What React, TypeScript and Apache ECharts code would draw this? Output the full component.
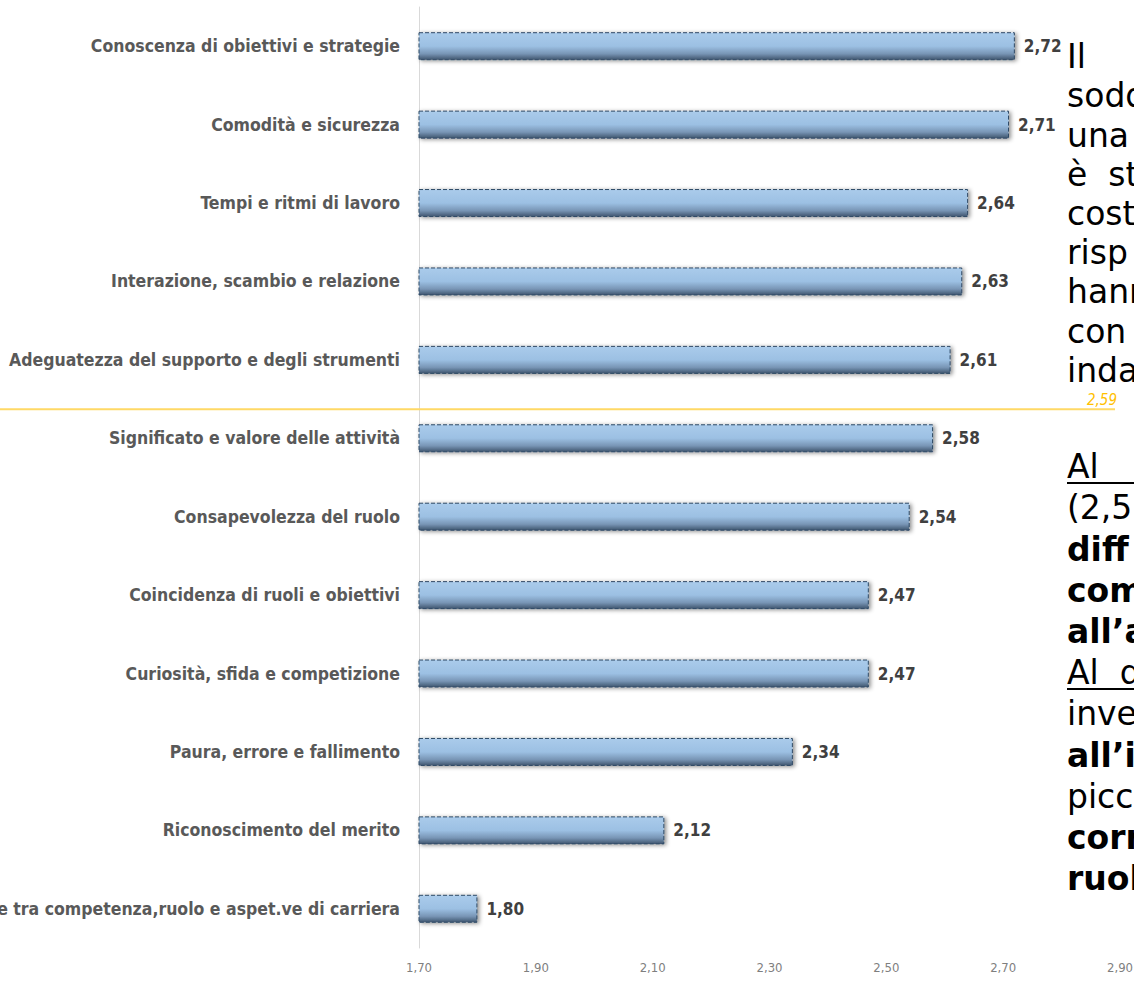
import { useEffect, useRef } from "react";
import * as echarts from "echarts";

const categories = [
  "Conoscenza di obiettivi e strategie",
  "Comodità e sicurezza",
  "Tempi e ritmi di lavoro",
  "Interazione, scambio e relazione",
  "Adeguatezza del supporto e degli strumenti",
  "Significato e valore delle attività",
  "Consapevolezza del ruolo",
  "Coincidenza di ruoli e obiettivi",
  "Curiosità, sfida e competizione",
  "Paura, errore e fallimento",
  "Riconoscimento del merito",
  "e tra competenza,ruolo e aspet.ve di carriera",
];
const values = [2.72, 2.71, 2.64, 2.63, 2.61, 2.58, 2.54, 2.47, 2.47, 2.34, 2.12, 1.8];
const meanValue = 2.59;
const axisMin = 1.7;
const axisMax = 2.9;
const axisStep = 0.2;

const noteParagraph1 = ["Il", "sodd", "una", "è  st", "cost", "risp", "hann", "con", "inda"];
const noteParagraph2 = ["Al", "(2,5", "diff", "comp", "all’a", "Al  d", "inve", "all’i", "picc", "corr", "ruol"];
const boldLines2 = [2, 3, 4, 7, 9, 10];
const underlinedLines2 = [0, 5];

const W = 1134;
const H = 984;
const fmt = (v: number) => v.toFixed(2).replace(".", ",");
const chartFont = "'Liberation Sans Narrow', 'DejaVu Sans Condensed', sans-serif";

export default function App() {
  const ref = useRef<HTMLDivElement>(null);
  useEffect(() => {
    if (!ref.current) return;
    const chart = echarts.init(ref.current, null, { renderer: "svg" });
    const option: any = {
      animation: false,
      backgroundColor: "#ffffff",
      grid: {
        left: 419,
        right: 14,
        top: 7,
        bottom: 36,
        containLabel: false,
        outerBoundsMode: "none",
      },
      xAxis: {
        type: "value",
        min: axisMin,
        max: axisMax,
        interval: axisStep,
        splitLine: { show: false },
        axisLine: { show: false },
        axisTick: { show: false },
        axisLabel: {
          formatter: (v: number) => fmt(v),
          color: "#7f7f7f",
          fontSize: 13,
          fontFamily: chartFont,
          margin: 13,
        },
      },
      yAxis: {
        type: "category",
        inverse: true,
        data: categories,
        axisLine: { show: true, lineStyle: { color: "#d9d9d9", width: 1 } },
        axisTick: { show: false },
        axisLabel: {
          color: "#595959",
          fontSize: 17.5,
          fontWeight: "bold",
          fontFamily: chartFont,
          margin: 19,
        },
      },
      series: [
        {
          type: "bar",
          data: values,
          barWidth: 28,
          clip: true,
          itemStyle: {
            color: new echarts.graphic.LinearGradient(0, 0, 0, 1, [
              { offset: 0, color: "#aacbeb" },
              { offset: 0.5, color: "#9cc0e3" },
              { offset: 0.78, color: "#7895b5" },
              { offset: 1, color: "#3f556e" },
            ]),
            borderColor: "#2f4a66",
            borderWidth: 1,
            borderType: "dashed",
            shadowColor: "rgba(0,0,0,0.45)",
            shadowBlur: 4,
            shadowOffsetX: 2,
            shadowOffsetY: 1,
          },
          label: {
            show: true,
            position: "right",
            distance: 9,
            formatter: (p: any) => fmt(p.value),
            color: "#404040",
            fontSize: 17,
            fontWeight: "bold",
            fontFamily: chartFont,
          },
        },
      ],
    };
    chart.setOption(option);

    // mean line placed between the categories whose values straddle the mean
    let i = 0;
    while (i < values.length - 2 && values[i + 1] > meanValue) i++;
    const yA = chart.convertToPixel({ yAxisIndex: 0 }, i) as number;
    const yB = chart.convertToPixel({ yAxisIndex: 0 }, i + 1) as number;
    const frac = (values[i] - meanValue) / (values[i] - values[i + 1]);
    const yMean = yA + frac * (yB - yA) - 3;
    const xLineEnd = W - 19;

    const fontSize = 33;
    const textX = 1067;
    const graphics: any[] = [
      {
        type: "line",
        shape: { x1: 0, y1: yMean, x2: xLineEnd, y2: yMean },
        style: { stroke: "#ffd966", lineWidth: 2 },
        z: 10,
      },
      {
        type: "text",
        x: xLineEnd + 2,
        y: yMean - 2,
        style: {
          text: fmt(meanValue),
          fill: "#ffc000",
          font: `italic 15px ${chartFont}`,
          textAlign: "right",
          textVerticalAlign: "bottom",
        },
        z: 11,
      },
    ];
    noteParagraph1.forEach((t, k) => {
      const base = 68 + k * 39.2;
      graphics.push({
        type: "text",
        x: textX,
        y: base - 11.4,
        style: {
          text: t,
          fill: "#000000",
          font: `${fontSize}px 'DejaVu Sans'`,
          textAlign: "left",
          textVerticalAlign: "middle",
        },
        z: 20,
      });
    });
    noteParagraph2.forEach((t, k) => {
      const base = 478 + k * 41.2;
      const bold = boldLines2.includes(k);
      graphics.push({
        type: "text",
        x: textX,
        y: base - 11.4,
        style: {
          text: t,
          fill: "#000000",
          font: `${bold ? "bold " : ""}${fontSize}px 'DejaVu Sans'`,
          textAlign: "left",
          textVerticalAlign: "middle",
        },
        z: 20,
      });
      if (underlinedLines2.includes(k)) {
        graphics.push({
          type: "line",
          shape: { x1: textX, y1: base + 5, x2: W, y2: base + 5 },
          style: { stroke: "#000000", lineWidth: 2 },
          z: 20,
        });
      }
    });
    chart.setOption({ graphic: graphics });

    return () => chart.dispose();
  }, []);
  return (
    <div
      ref={ref}
      style={{ position: "fixed", left: 0, top: 0, width: W, height: H, background: "#fff" }}
    />
  );
}
